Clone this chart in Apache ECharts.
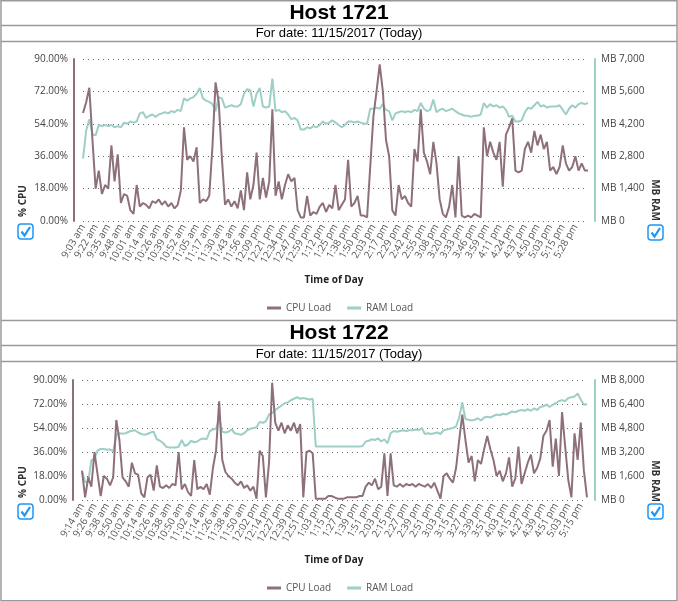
<!DOCTYPE html>
<html><head><meta charset="utf-8">
<script src="https://cdn.jsdelivr.net/npm/echarts@6/dist/echarts.min.js"></script>
<style>html,body{margin:0;padding:0;background:#fff}#c{width:678px;height:602px}</style>
</head><body><div id="c"></div>
<script>
const labels1 = ['9:03 am','9:22 am','9:35 am','9:48 am','10:01 am','10:14 am','10:26 am','10:39 am','10:52 am','11:05 am','11:17 am','11:30 am','11:43 am','11:56 am','12:09 pm','12:21 pm','12:34 pm','12:47 pm','12:59 pm','1:12 pm','1:25 pm','1:38 pm','1:50 pm','2:03 pm','2:17 pm','2:29 pm','2:42 pm','2:55 pm','3:08 pm','3:20 pm','3:33 pm','3:46 pm','3:59 pm','4:11 pm','4:24 pm','4:37 pm','4:50 pm','5:03 pm','5:15 pm','5:28 pm'];
const labels2 = ['9:14 am','9:26 am','9:38 am','9:50 am','10:02 am','10:14 am','10:26 am','10:38 am','10:50 am','11:02 am','11:14 am','11:26 am','11:38 am','11:50 am','12:02 pm','12:14 pm','12:27 pm','12:39 pm','12:51 pm','1:03 pm','1:15 pm','1:27 pm','1:39 pm','1:51 pm','2:03 pm','2:15 pm','2:27 pm','2:39 pm','2:51 pm','3:03 pm','3:15 pm','3:27 pm','3:39 pm','3:51 pm','4:03 pm','4:15 pm','4:27 pm','4:39 pm','4:51 pm','5:03 pm','5:15 pm'];

const cpu1 = [60,66,74,45,18,28,15,20,18,42,22,37,10,15,14,6,4,20,8,10,9,7,11,10,12,9,11,8,10,7,9,17,52,34,36,33,41,10,12,11,14,41,77,66,35,9,12,8,11,7,17,6,27,12,20,38,12,24,13,22,62,14,22,12,20,26,22,24,6,2,2,14,3,5,4,8,10,5,9,7,20,6,9,12,34,8,10,14,3,3,2,30,58,72,87,72,45,36,6,3,20,12,14,10,8,40,33,62,38,33,26,44,32,12,4,2,8,20,2,36,3,2,3,2,4,3,2,52,36,44,38,34,44,19,48,52,57,28,27,28,40,44,38,50,42,48,40,44,28,30,26,30,42,32,28,30,36,28,32,28,28];
const ram1 = [2700,3900,4400,3750,3700,4150,4100,4150,4100,4150,4050,4100,4050,4250,4200,4300,4250,4300,4650,4700,4450,4550,4600,4500,4600,4650,4700,4650,4750,4700,4800,4750,5300,5200,5300,5350,5500,5750,5300,5200,5150,5050,4750,5350,5300,4900,4950,5000,4950,4950,5050,5500,5700,5650,4950,5500,5750,4950,4900,4950,6150,4750,4800,4700,4750,4600,4400,4450,4350,3950,3950,4050,4000,4100,4050,4150,4300,4200,4250,4350,4250,4150,4050,4150,4300,4300,4250,4300,4250,4200,4200,4850,4850,4900,4850,5050,4800,4750,4350,4650,4700,4750,4700,4750,4700,4800,4750,5100,4850,4750,4800,5250,4700,4800,4850,4750,4800,4850,4750,4650,4600,4550,4550,4500,4550,4550,4600,5100,4900,5050,4950,5000,4900,4950,4800,4500,4550,4300,4300,4350,4700,4900,4850,5000,5150,4950,5000,4900,4950,4950,4950,5000,4800,4600,4850,5000,4900,5050,5100,5050,5100];

const cpu2 = [22,2,17,10,36,19,3,18,16,11,17,60,45,17,14,10,28,20,19,5,2,17,19,7,26,10,9,11,9,12,11,36,8,12,6,3,30,8,10,8,12,4,24,37,74,30,21,18,16,13,11,14,9,11,7,10,1,37,33,2,28,88,58,52,58,50,56,52,58,50,57,2,36,37,35,1,1,1,1,3,3,2,1,1,1,2,2,2,2,3,3,10,13,11,16,8,10,35,3,35,11,10,12,10,12,11,12,10,12,11,10,12,9,13,7,1,18,20,16,13,24,45,64,45,28,33,14,30,27,38,48,38,30,18,22,14,20,32,10,16,40,12,20,28,34,20,24,31,48,52,60,25,46,18,66,40,15,2,50,30,58,22,2];
const ram2 = [1900,1200,1200,2650,2750,3300,3400,3400,3350,3380,3250,4300,4450,4420,4450,4550,4620,4650,4500,4400,4350,4400,4500,4550,4050,3950,3800,3550,3500,3500,3500,3550,4000,3600,3700,3950,3850,3900,4050,4100,4050,4600,4700,4750,5450,4550,4500,4550,4700,4450,4400,4350,4450,4650,4750,4800,4850,5200,5150,5250,5700,5800,6000,6150,6300,6450,6500,6650,6750,6850,6750,6800,6750,6700,6750,3560,3560,3560,3560,3560,3560,3560,3560,3560,3560,3560,3560,3560,3560,3560,3600,3900,3950,4050,4000,4100,3900,4050,3780,4450,4600,4550,4600,4650,4600,4650,4650,4700,4650,4800,4400,4450,4400,4450,4500,4400,4650,4700,4750,4800,4900,5500,6500,5400,5350,5300,5350,5450,5300,5500,5550,5500,5600,5700,5650,5750,5700,5800,5900,5850,5950,6000,5950,6050,5950,6100,6000,6200,6250,6350,6200,6350,6450,6600,6650,6600,6800,6850,6900,7100,6700,6350,6400];

const hosts = ['Host 1721','Host 1722'];
const subTitle = 'For date: 11/15/2017 (Today)';
const seriesNames = ['CPU Load','RAM Load'];
const cpuTicks = [0,90,18];
const ramTicks1 = [0,7000,1400];
const ramTicks2 = [0,8000,1600];

const STEP = 4;
function cats(labels, n){ const a=[]; for(let i=0;i<n;i++){ a.push(labels[Math.floor(i/STEP)] || ''); } return a; }

const CPU_C = '#8e707d', RAM_C = '#9ecfc7', FONT = 'Open Sans';
const chart = echarts.init(document.getElementById('c'), null, {renderer:'canvas'});

function xAxisDef(grid, labels, n){
  return {type:'category', gridIndex:grid, boundaryGap:false, data:cats(labels,n),
    axisLine:{show:false}, axisTick:{show:false}, splitLine:{show:false},
    axisLabel:{interval:STEP-1, rotate:60, margin:4, fontSize:10, color:'#555', fontFamily:FONT}};
}
function yLeft(grid, t){
  return {type:'value', gridIndex:grid, min:t[0], max:t[1], interval:t[2], position:'left', offset:9,
    axisLine:{show:true, lineStyle:{color:CPU_C, width:2}}, axisTick:{show:false},
    splitLine:{show:true, lineStyle:{color:'#666', type:[1,4], width:1}},
    axisLabel:{margin:6, fontSize:10, color:'#444', fontFamily:FONT, formatter:v=>v.toFixed(2)+'%'}};
}
function yRight(grid, t, off){
  return {type:'value', gridIndex:grid, min:t[0], max:t[1], interval:t[2], position:'right', offset:off,
    axisLine:{show:true, lineStyle:{color:RAM_C, width:2}}, axisTick:{show:false}, splitLine:{show:false},
    axisLabel:{margin:6, fontSize:10, color:'#444', fontFamily:FONT, formatter:v=>'MB '+v.toLocaleString('en-US')}};
}
function line(name, data, xi, yi, color){
  return {name, type:'line', data, xAxisIndex:xi, yAxisIndex:yi, showSymbol:false, symbol:'none',
    lineStyle:{color, width:2}, itemStyle:{color}, z: name==='CPU Load'?3:2};
}
function checkbox(x,y){
  return [
    {type:'rect', shape:{x:x,y:y,width:15,height:15,r:3}, style:{fill:'#fff', stroke:'#2196f3', lineWidth:1.5}},
    {type:'polyline', shape:{points:[[x+3.5,y+7.5],[x+6.5,y+11.5],[x+12,y+3]]}, style:{stroke:'#2196f3', lineWidth:2.2, fill:null}}
  ];
}
function txt(x,y,text,size,weight,color,rot){
  return {type:'text', x, y, rotation:rot||0, style:{text, fontSize:size, fontWeight:weight, fill:color, fontFamily: size>=13?'Liberation Sans':FONT, align:'center', verticalAlign:'middle'}};
}
const BC = '#9a9a9a';
function hline(y){ return {type:'line', shape:{x1:1,y1:y,x2:677,y2:y}, style:{stroke:BC, lineWidth:1.5}}; }

const graphics = [
  {type:'rect', shape:{x:1,y:0.75,width:676,height:600}, style:{fill:null, stroke:BC, lineWidth:1.5}},
  hline(25.5), hline(41.5), hline(320.5), hline(345.5), hline(361.5),
  txt(339,13,hosts[0],21,'bold','#000'), txt(339,33.5,subTitle,13,'normal','#000'),
  txt(339,333,hosts[1],21,'bold','#000'), txt(339,354,subTitle,13,'normal','#000'),
  txt(334,280,'Time of Day',10,'bold','#222'), txt(334,560,'Time of Day',10,'bold','#222'),
  txt(23,201,'% CPU',10,'bold','#333',Math.PI/2), txt(23,482,'% CPU',10,'bold','#333',Math.PI/2),
  txt(655,200,'MB RAM',10,'bold','#333',-Math.PI/2), txt(655,481,'MB RAM',10,'bold','#333',-Math.PI/2),
  ...checkbox(18,224), ...checkbox(648,225), ...checkbox(18,504), ...checkbox(648,504)
];

const legendBase = {orient:'horizontal', icon:'rect', itemWidth:14, itemHeight:3, itemGap:16,
  textStyle:{fontSize:10, color:'#555', fontFamily:FONT}, data:seriesNames, selectedMode:false};

chart.setOption({
  animation:false,
  grid:[{left:83, width:505, top:59, height:162}, {left:82, width:505, top:380, height:120}],
  xAxis:[xAxisDef(0,labels1,cpu1.length), xAxisDef(1,labels2,cpu2.length)],
  yAxis:[yLeft(0,cpuTicks), yRight(0,ramTicks1,7), yLeft(1,cpuTicks), yRight(1,ramTicks2,8)],
  legend:[Object.assign({left:262, top:298}, legendBase), Object.assign({left:262, top:578}, legendBase)],
  series:[
    line(seriesNames[1], ram1, 0, 1, RAM_C), line(seriesNames[0], cpu1, 0, 0, CPU_C),
    line(seriesNames[1], ram2, 1, 3, RAM_C), line(seriesNames[0], cpu2, 1, 2, CPU_C)
  ],
  graphic:graphics
});
</script></body></html>
